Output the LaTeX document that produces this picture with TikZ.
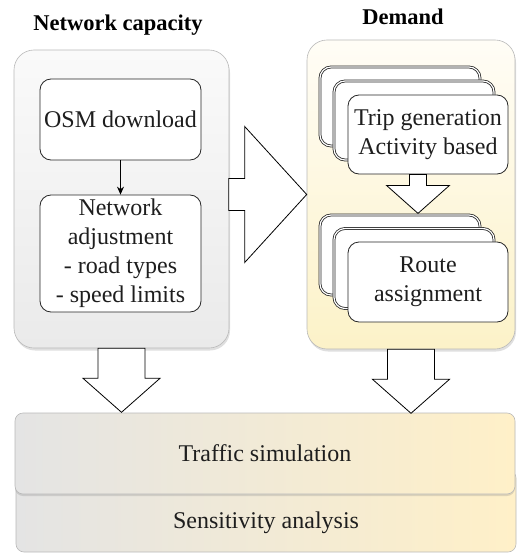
\documentclass[tikz,border=0pt]{standalone}
\usepackage{fontspec}
\setmainfont{Liberation Serif}
\usetikzlibrary{arrows.meta,calc,shadows}
\definecolor{txtcol}{RGB}{30,30,30}
\definecolor{nettop}{RGB}{250,250,250}
\definecolor{netbot}{RGB}{234,234,234}
\definecolor{demtop}{RGB}{255,253,246}
\definecolor{dembot}{RGB}{252,242,200}
\definecolor{simleft}{RGB}{228,228,228}
\definecolor{simright}{RGB}{255,240,200}

\begin{document}
\begin{tikzpicture}[
  x=1pt, y=-1pt, font=\fontsize{24}{29}\selectfont, text=txtcol,
  >={Stealth[length=8pt,width=7pt]},
  panel/.style={rectangle,rounded corners=20pt,draw=gray!55,line width=0.6pt,
    drop shadow={opacity=0.25,shadow xshift=1pt,shadow yshift=-2.5pt}},
  box/.style={rectangle,rounded corners=11pt,draw=black!85,line width=0.8pt,
    fill=white,align=center,inner sep=2pt},
  stackbox/.style={box,double=white,double distance=1.2pt},
  bar/.style={rectangle,rounded corners=8pt,draw=gray!55,line width=0.6pt,
    left color=simleft,right color=simright,minimum width=500pt},
  hollow/.style={draw=black,line width=0.8pt,fill=white,line join=miter},
  title/.style={font=\fontsize{22.5}{26}\selectfont\bfseries,text=black},
]
\useasboundingbox (0,0) rectangle (517,556);

% --- titles ---
\node[title] (netlbl) at (118,25) {Network capacity};
\node[title] (demlbl) at (403,17) {Demand};

% --- network capacity panel ---
\node[panel,top color=nettop,bottom color=netbot,minimum width=215pt,minimum height=298pt]
  (net) at (121.5,199) {};
\node[box,minimum width=161pt,minimum height=81pt] (osm) at (120.5,119.5) {OSM download};
\node[box,minimum width=161pt,minimum height=117pt] (adj) at (120.5,253.5)
  {Network\\adjustment\\- road types\\- speed limits};
\draw[->,line width=0.8pt] (osm) -- (adj);

% --- demand panel ---
\node[panel,top color=demtop,bottom color=dembot,minimum width=208pt,minimum height=309pt]
  (dem) at (411,194.5) {};
\node[stackbox,minimum width=160pt,minimum height=79pt] (tripb) at (400,106.5) {};
\node[stackbox,minimum width=160pt,minimum height=79pt] (tripm) at (414,120.5) {};
\node[box,minimum width=160pt,minimum height=79pt] (trip) at (428,134.5)
  {Trip generation\\Activity based};
\node[stackbox,minimum width=160pt,minimum height=80pt] (routeb) at (400,255) {};
\node[stackbox,minimum width=160pt,minimum height=80pt] (routem) at (414,268.5) {};
\node[box,minimum width=160pt,minimum height=80pt] (route) at (428,282)
  {Route\\assignment};
\draw[hollow] ($(trip.south)+(-18.5,0)$) -- ++(17,0) -- ++(0,11) -- ++(23,0)
  -- ++(-31.5,28) -- ++(-31.5,-28) -- ++(23,0) -- cycle;

% --- capacity into demand ---
\draw[hollow] (dem.west) -- ++(-62,-68) -- ++(0,52) -- ++(-16,0) -- ++(0,32)
  -- ++(16,0) -- ++(0,52) -- cycle;

% --- simulation ---
\node[bar,minimum height=82pt] (sens) at (266,511) {};
\node[anchor=center] (senslbl) at (266,523) {Sensitivity analysis};
\node[bar,minimum height=81pt,drop shadow={opacity=0.25,shadow xshift=0pt,shadow yshift=-2pt}]
  (sim) at (265,453.5) {Traffic simulation};
\draw[hollow] ($(net.south)+(-23.5,0)$) -- ++(47,0) -- ++(0,30) -- ++(15,0)
  -- ++(-38.5,34) -- ++(-38.5,-34) -- ++(15,0) -- cycle;
\draw[hollow] ($(dem.south)+(-23.5,0)$) -- ++(47,0) -- ++(0,30) -- ++(15,0)
  -- ++(-38.5,34) -- ++(-38.5,-34) -- ++(15,0) -- cycle;
\end{tikzpicture}
\end{document}
